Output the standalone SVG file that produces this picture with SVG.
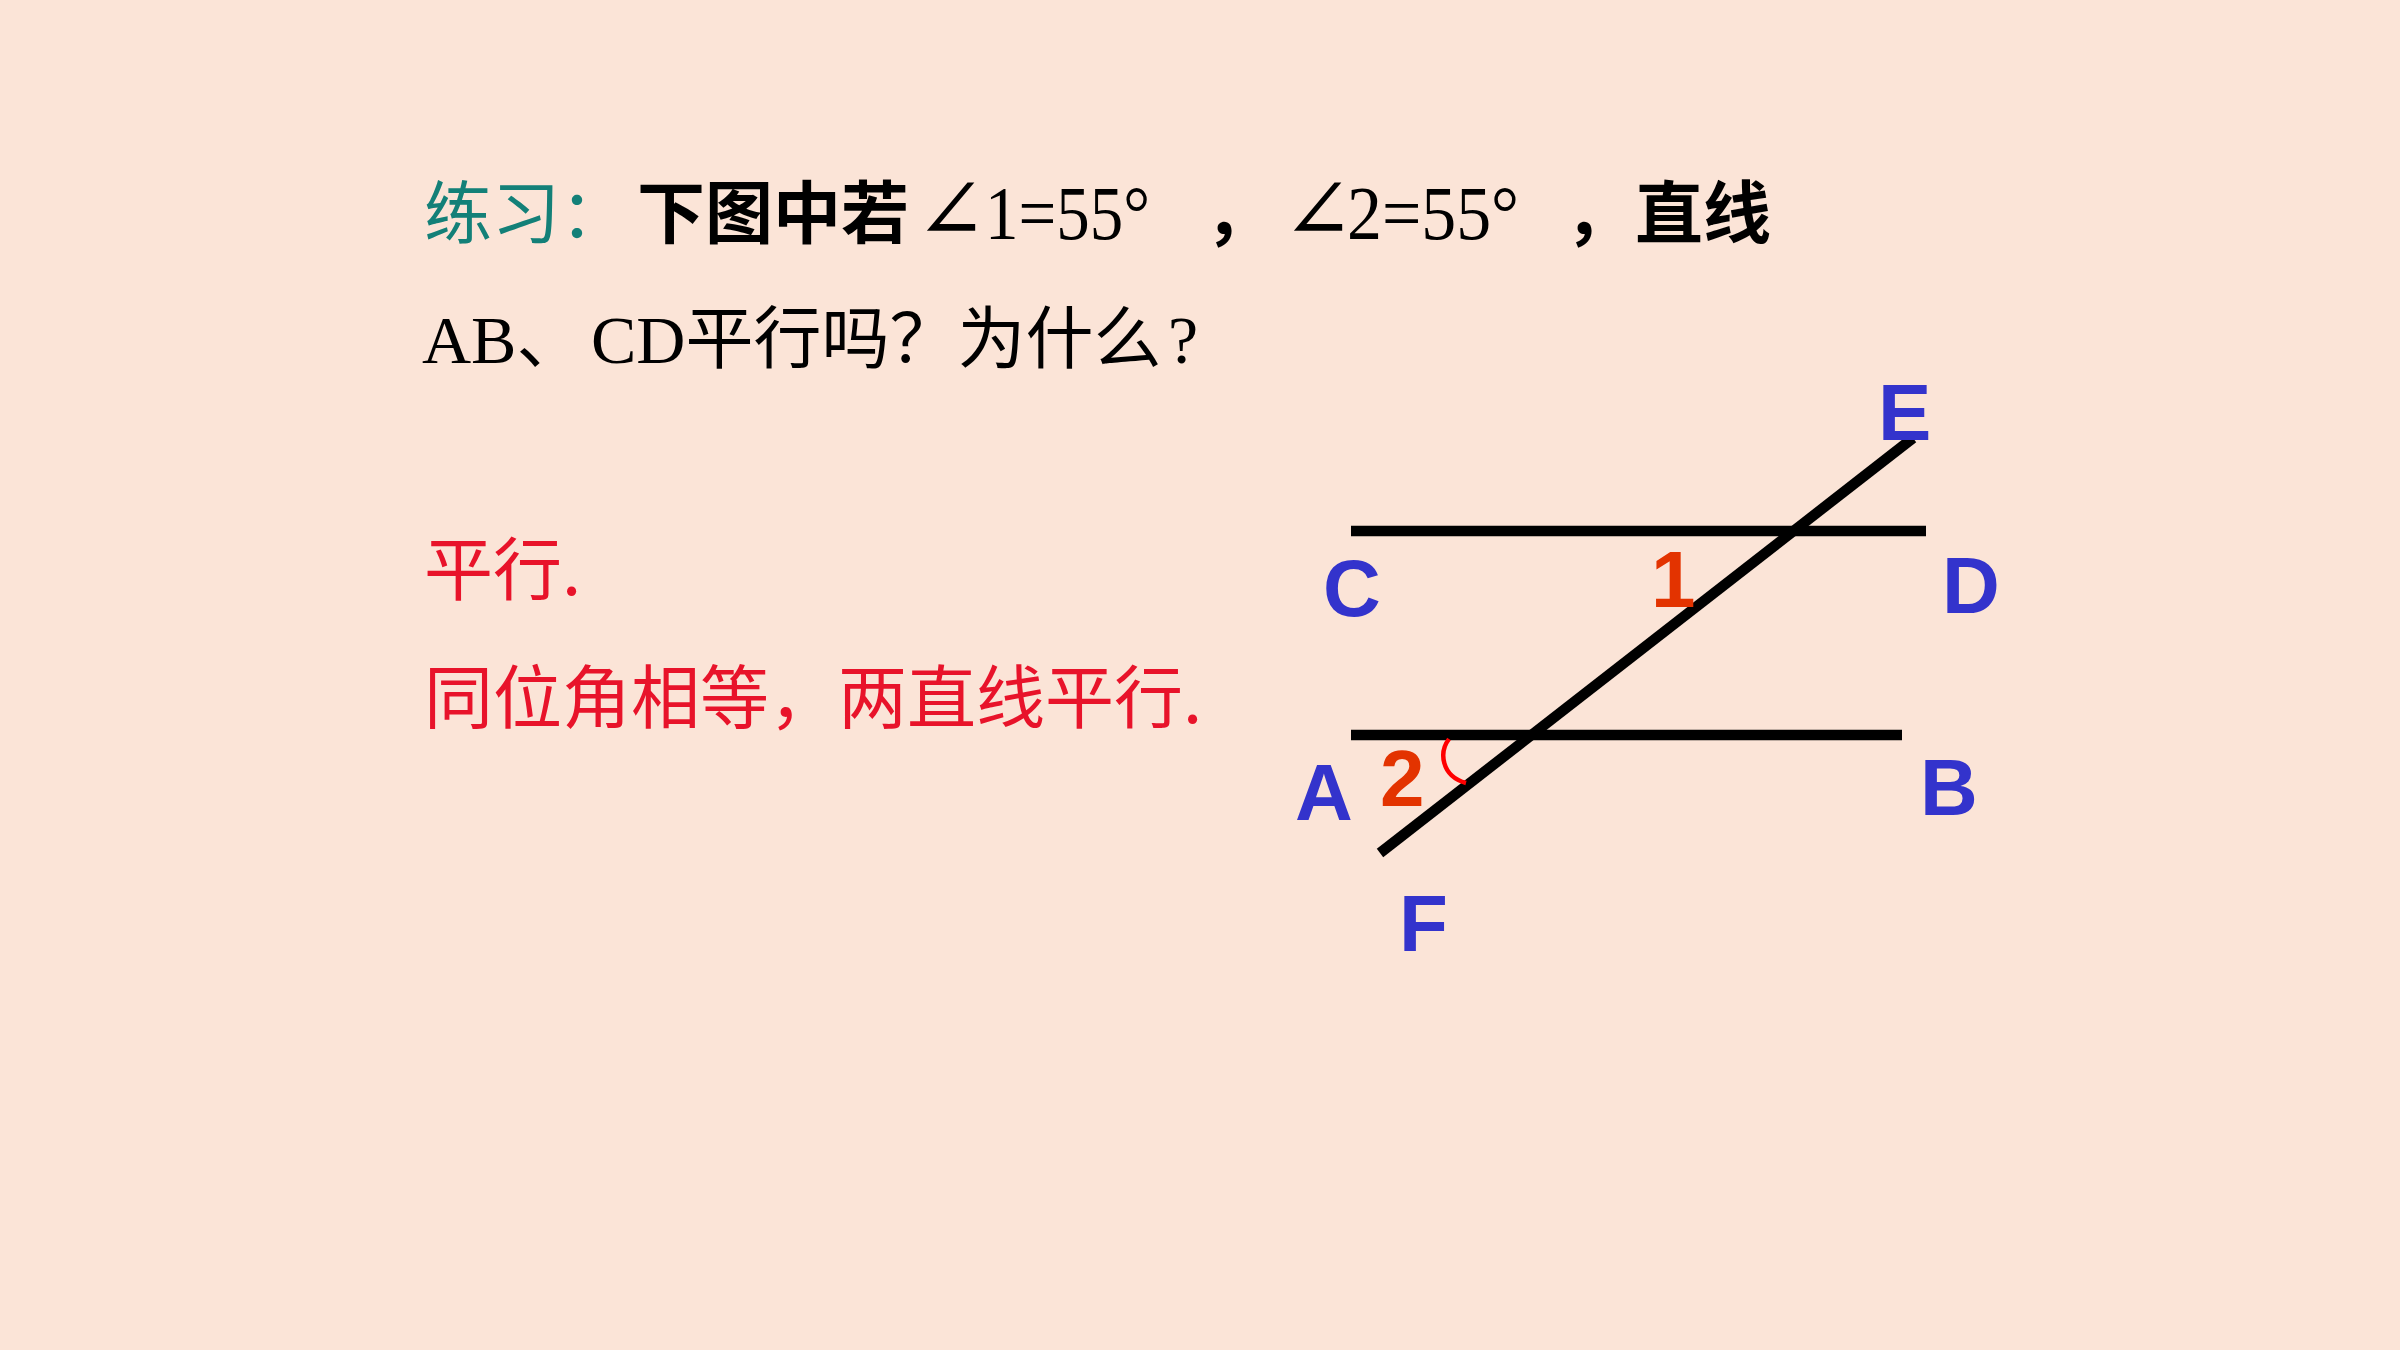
<svg xmlns="http://www.w3.org/2000/svg" width="2400" height="1350" viewBox="0 0 2400 1350">
<style>
.cjk{font-family:"Noto Sans CJK SC","Noto Sans",sans-serif;font-size:68px}
.ser{font-family:"Liberation Serif","DejaVu Serif","Noto Sans CJK SC",serif;font-size:68px}
.num1{font-family:"Liberation Serif","DejaVu Serif",serif;font-size:76px}
.ang{font-family:"Liberation Serif","DejaVu Serif",serif;font-size:86px}
.lbl{font-family:"Liberation Sans",Arial,sans-serif;font-weight:bold;font-size:80px;fill:#3333CC}
.num{font-family:"Liberation Sans",Arial,sans-serif;font-weight:bold;font-size:80px;fill:#E33300}
.ans{font-family:"Noto Sans CJK SC","Noto Sans",sans-serif;font-size:69px;fill:#E8132A}
.ln{stroke:#000;stroke-width:10.5;fill:none}
</style>
<rect width="2400" height="1350" fill="#FBE4D7"/>
<g id="question">
<text class="cjk" x="424" y="238" fill="#138078">练习：</text>
<text class="cjk" x="637" y="238" fill="#000" font-weight="bold">下图中若</text>
<text class="ang" x="915" y="239" fill="#000">∠</text>
<text class="num1" x="985" y="239" fill="#000" textLength="165" lengthAdjust="spacingAndGlyphs">1=55°</text>
<text class="cjk" x="1205" y="238" fill="#000" font-weight="bold">，</text>
<text class="ang" x="1282" y="239" fill="#000">∠</text>
<text class="num1" x="1347" y="239" fill="#000" textLength="172" lengthAdjust="spacingAndGlyphs">2=55°</text>
<text class="cjk" x="1565" y="238" fill="#000" font-weight="bold">，</text>
<text class="cjk" x="1635" y="238" fill="#000" font-weight="bold">直线</text>
<text x="422" y="363" fill="#000"><tspan class="ser">AB</tspan><tspan class="cjk">、</tspan><tspan class="ser" x="591">CD</tspan><tspan class="cjk">平行吗？为什么</tspan><tspan class="ser" x="1168">?</tspan></text>
</g>
<g id="answer">
<text class="ans" x="424" y="595">平行.</text>
<text class="ans" x="424" y="723">同位角相等，两直线平行.</text>
</g>
<g id="connectors">
<line id="CD" class="ln" x1="1351" y1="531" x2="1926" y2="531"/>
<line id="AB" class="ln" x1="1351" y1="735" x2="1902" y2="735"/>
<line id="EF" class="ln" x1="1913" y1="438" x2="1380" y2="853"/>
<path id="arc2" d="M1449 739 C1439 752 1441 776 1466 783" stroke="#FF0000" stroke-width="4.5" fill="none"/>
</g>
<g id="labels">
<text class="lbl" x="1878" y="440">E</text>
<text class="lbl" x="1323" y="616">C</text>
<text class="lbl" x="1942" y="613">D</text>
<text class="lbl" x="1295" y="820">A</text>
<text class="lbl" x="1920" y="815">B</text>
<text class="lbl" x="1399" y="951">F</text>
<text class="num" x="1651" y="607">1</text>
<text class="num" x="1380" y="806">2</text>
</g>
</svg>
